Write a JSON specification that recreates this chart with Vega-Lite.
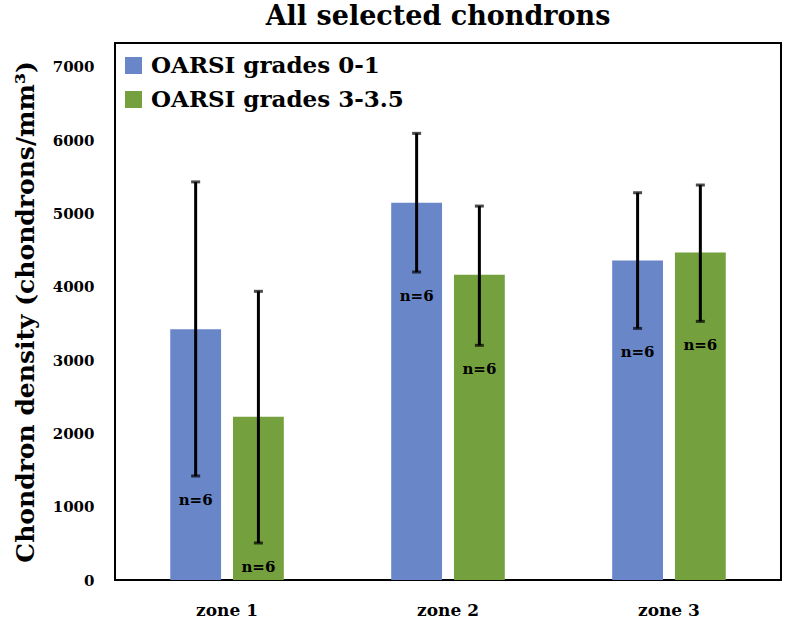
{
  "$schema": "https://vega.github.io/schema/vega-lite/v6.json",
  "width": 666,
  "height": 537,
  "autosize": {"type": "none"},
  "padding": {"left": 115, "top": 43, "right": 6, "bottom": 39},
  "background": "white",
  "title": {
    "text": "All selected chondrons",
    "font": "DejaVu Serif",
    "fontWeight": "bold",
    "fontSize": 27,
    "color": "#000",
    "anchor": "middle",
    "offset": 12,
    "dx": -10
  },
  "config": {
    "view": {"stroke": "#000", "strokeWidth": 2},
    "font": "DejaVu Serif"
  },
  "data": {
    "values": [
      {"zone": "zone 1", "group": "OARSI grades 0-1", "mean": 3420, "low": 1419, "high": 5432, "n": "n=6"},
      {"zone": "zone 1", "group": "OARSI grades 3-3.5", "mean": 2228, "low": 505, "high": 3939, "n": "n=6"},
      {"zone": "zone 2", "group": "OARSI grades 0-1", "mean": 5148, "low": 4202, "high": 6094, "n": "n=6"},
      {"zone": "zone 2", "group": "OARSI grades 3-3.5", "mean": 4166, "low": 3202, "high": 5102, "n": "n=6"},
      {"zone": "zone 3", "group": "OARSI grades 0-1", "mean": 4361, "low": 3433, "high": 5284, "n": "n=6"},
      {"zone": "zone 3", "group": "OARSI grades 3-3.5", "mean": 4470, "low": 3529, "high": 5389, "n": "n=6"}
    ]
  },
  "encoding": {
    "x": {
      "field": "zone",
      "type": "nominal",
      "scale": {"paddingInner": 0.486, "paddingOuter": 0.25},
      "axis": {
        "title": null,
        "labelAngle": 0,
        "labelFont": "DejaVu Serif",
        "labelFontWeight": "bold",
        "labelFontSize": 17,
        "labelColor": "#000",
        "labelPadding": 22,
        "ticks": false,
        "domain": false
      }
    },
    "xOffset": {
      "field": "group",
      "type": "nominal",
      "scale": {"paddingInner": 0.19, "paddingOuter": 0}
    }
  },
  "layer": [
    {
      "mark": {"type": "bar"},
      "encoding": {
        "y": {
          "field": "mean",
          "type": "quantitative",
          "scale": {"domain": [0, 7327], "nice": false},
          "axis": {
            "values": [0, 1000, 2000, 3000, 4000, 5000, 6000, 7000],
            "format": "d",
            "grid": false,
            "ticks": false,
            "domain": false,
            "labelFont": "DejaVu Serif",
            "labelFontWeight": "bold",
            "labelFontSize": 15,
            "labelColor": "#000",
            "labelPadding": 21,
            "title": "Chondron density (chondrons/mm³)",
            "titleFont": "DejaVu Serif",
            "titleFontWeight": "bold",
            "titleFontSize": 25,
            "titleColor": "#000",
            "titlePadding": 14
          }
        },
        "color": {
          "field": "group",
          "type": "nominal",
          "scale": {"domain": ["OARSI grades 0-1", "OARSI grades 3-3.5"], "range": ["#6886C8", "#74A03E"]},
          "legend": {
            "title": null,
            "orient": "none",
            "legendX": 7,
            "legendY": 11,
            "symbolType": "square",
            "symbolSize": 289,
            "symbolStrokeWidth": 0,
            "labelFont": "DejaVu Serif",
            "labelFontWeight": "bold",
            "labelFontSize": 23,
            "labelColor": "#000",
            "labelOffset": 6,
            "rowPadding": 10,
            "labelLimit": 400
          }
        }
      }
    },
    {
      "mark": {"type": "rule", "color": "#000", "strokeWidth": 3},
      "encoding": {
        "y": {"field": "low", "type": "quantitative"},
        "y2": {"field": "high"}
      }
    },
    {
      "mark": {"type": "tick", "color": "#000", "thickness": 3, "size": 9},
      "encoding": {
        "y": {"field": "low", "type": "quantitative"}
      }
    },
    {
      "mark": {"type": "tick", "color": "#000", "thickness": 3, "size": 9},
      "encoding": {
        "y": {"field": "high", "type": "quantitative"}
      }
    },
    {
      "mark": {"type": "text", "font": "DejaVu Serif", "fontWeight": "bold", "fontSize": 15, "color": "#000", "dy": 24, "baseline": "middle"},
      "encoding": {
        "y": {"field": "low", "type": "quantitative"},
        "text": {"field": "n"}
      }
    }
  ]
}
